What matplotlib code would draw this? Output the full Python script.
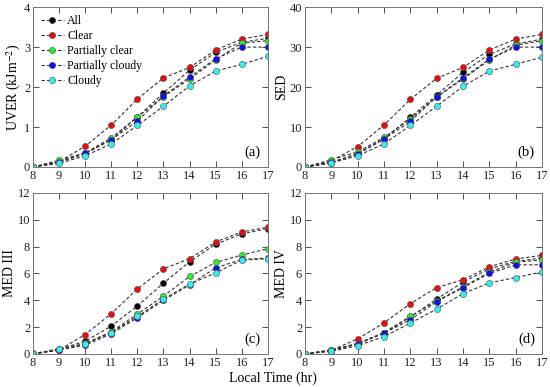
import numpy as np
import matplotlib
matplotlib.use('Agg')
import matplotlib.pyplot as plt

plt.rcParams['font.family'] = ['Liberation Serif', 'DejaVu Serif']
plt.rcParams['mathtext.fontset'] = 'stix'

hours = [8, 9, 10, 11, 12, 13, 14, 15, 16, 17]
names = ['All', 'Clear', 'Partially clear', 'Partially cloudy', 'Cloudy']
colors = ['#000000', '#e01010', '#30ec30', '#1010e0', '#38ecec']

uver = [
    [0, 0.12, 0.33, 0.68, 1.25, 1.85, 2.42, 2.87, 3.12, 3.22],
    [0, 0.13, 0.52, 1.05, 1.70, 2.23, 2.49, 2.93, 3.20, 3.32],
    [0, 0.17, 0.35, 0.73, 1.25, 1.76, 2.20, 2.68, 3.10, 3.16],
    [0, 0.13, 0.35, 0.68, 1.15, 1.78, 2.25, 2.71, 3.00, 3.00],
    [0, 0.09, 0.28, 0.58, 1.04, 1.52, 2.03, 2.40, 2.57, 2.77],
]
sed = [
    [0, 1.0, 3.4, 7.0, 12.4, 18.0, 23.7, 28.2, 30.8, 32.0],
    [0, 1.5, 5.1, 10.5, 16.9, 22.2, 24.9, 29.3, 32.0, 33.2],
    [0, 1.8, 3.8, 7.4, 12.0, 17.5, 22.0, 26.8, 30.5, 31.6],
    [0, 1.2, 3.2, 7.0, 11.4, 17.6, 22.3, 27.0, 30.0, 30.0],
    [0, 1.0, 2.8, 5.8, 10.4, 15.2, 20.2, 24.0, 25.7, 27.5],
]
med3 = [
    [0, 0.35, 0.95, 2.08, 3.58, 5.28, 6.88, 8.18, 8.95, 9.35],
    [0, 0.30, 1.45, 3.00, 4.85, 6.35, 7.10, 8.35, 9.10, 9.45],
    [0.05, 0.28, 0.80, 1.65, 2.98, 4.32, 5.78, 6.82, 7.38, 7.85],
    [0, 0.30, 0.65, 1.50, 2.70, 4.00, 5.15, 6.42, 7.05, 7.15],
    [0, 0.40, 0.75, 1.60, 2.80, 4.10, 5.20, 6.05, 7.00, 7.10],
]
med4 = [
    [0, 0.25, 0.75, 1.55, 2.75, 4.10, 5.35, 6.35, 6.90, 7.15],
    [0, 0.28, 1.12, 2.32, 3.75, 4.95, 5.53, 6.50, 7.08, 7.35],
    [0, 0.32, 0.78, 1.60, 2.80, 3.95, 5.00, 6.10, 6.85, 7.00],
    [0, 0.25, 0.78, 1.55, 2.55, 3.90, 4.95, 6.00, 6.65, 6.65],
    [0, 0.20, 0.62, 1.30, 2.30, 3.35, 4.50, 5.30, 5.70, 6.12],
]

panels = [
    (uver, 'UVER (kJm$^{-2}$)', 4, [0, 1, 2, 3, 4], '(a)', [0.06, 0.5685, 0.427, 0.413]),
    (sed, 'SED', 40, [0, 10, 20, 30, 40], '(b)', [0.5545, 0.5685, 0.431, 0.413]),
    (med3, 'MED III', 12, [0, 2, 4, 6, 8, 10, 12], '(c)', [0.06, 0.0853, 0.427, 0.416]),
    (med4, 'MED IV', 12, [0, 2, 4, 6, 8, 10, 12], '(d)', [0.5545, 0.0853, 0.431, 0.416]),
]

fig = plt.figure(figsize=(5.5, 3.87), dpi=100)

for data, ylab, ymax, yt, tag, pos in panels:
    ax = fig.add_axes(pos)
    for vals, nm, c in zip(data, names, colors):
        ax.plot(hours, vals, linestyle=(0, (3, 2)), color='#333333', lw=0.8,
                marker='o', ms=4.5, mfc=c, mec='#555555', mew=0.4, label=nm)
    ax.set_xlim(8, 17)
    ax.set_ylim(0, ymax)
    ax.set_xticks(hours)
    ax.set_yticks(yt)
    ax.tick_params(direction='in', top=True, right=True, length=4, width=0.6,
                   labelsize=9, pad=2, colors='#333333', labelcolor='#222222')
    for s in ax.spines.values():
        s.set_color('#777777')
        s.set_linewidth(0.7)
    ax.set_ylabel(ylab, fontsize=10, labelpad=1)
    ax.text(0.97, 0.05, tag, transform=ax.transAxes, ha='right', va='bottom', fontsize=10.5)
    if tag == '(a)':
        ax.legend(loc='upper left', frameon=False, fontsize=8.5, handlelength=1.9,
                  handletextpad=0.3, labelspacing=0.25, borderaxespad=0.3)

fig.text(0.497, 0.023, 'Local Time (hr)', ha='center', va='center', fontsize=10)

fig.savefig('out.png', dpi=100)
